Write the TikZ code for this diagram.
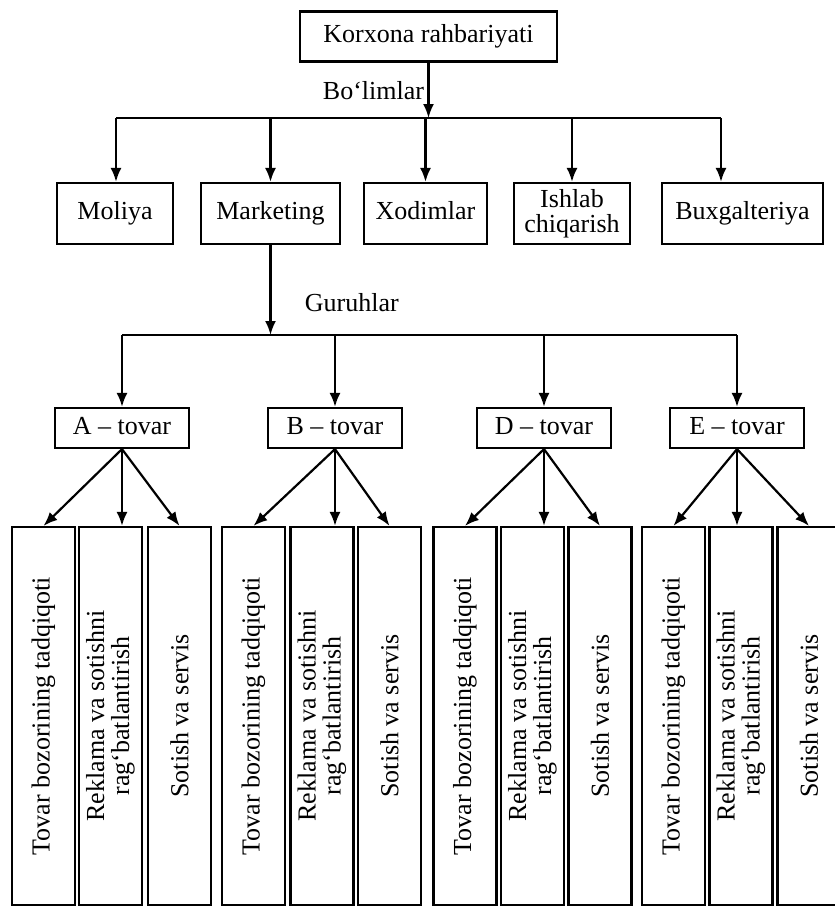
\documentclass[tikz,border=0pt]{standalone}
\usepackage{fontspec}
\setmainfont{Liberation Serif}
\usetikzlibrary{arrows.meta}

\begin{document}
\begin{tikzpicture}[x=1pt, y=-1pt, font=\fontsize{26}{25}\selectfont,
  unitbox/.style={draw, line width=2.2pt, inner sep=0pt, align=center},
  oneline/.style={text height=18pt, text depth=6pt},
  bolim/.style={unitbox, minimum height=61pt},
  tovar/.style={unitbox, oneline, minimum width=134pt, minimum height=40pt},
  guruh/.style={unitbox, rotate=90, minimum width=378pt, minimum height=63pt},
  arr/.style={-{Latex[length=14pt,width=11pt]}, line width=2.2pt},
  ln/.style={line width=2.2pt}]

\useasboundingbox (0,0) rectangle (835,908);

% rahbariyat and bo'limlar
\path
(428.5,36.5) node[unitbox, oneline, minimum width=257pt, minimum height=50pt](korxona){Korxona rahbariyati}
(115,213.5) node[bolim, oneline, minimum width=116pt](moliya){Moliya}
(270.5,213.5) node[bolim, oneline, minimum width=139pt](marketing){Marketing}
(425.5,213.5) node[bolim, oneline, minimum width=123pt](xodimlar){Xodimlar}
(572,213.5) node[bolim, minimum width=116pt](ishlab){Ishlab\\chiqarish}
(742.5,213.5) node[bolim, oneline, minimum width=161pt](buxgalteriya){Buxgalteriya};

\coordinate (bolL) at (116,118);
\coordinate (bolR) at (721,118);
\draw[arr] (korxona.south) -- node[left]{Bo‘limlar} (korxona.south |- bolL);
\draw[ln] (bolL) -- (bolR);
\draw[arr] (bolL) -- (bolL |- moliya.north);
\draw[arr] (marketing.north |- bolL) -- (marketing.north);
\draw[arr] (xodimlar.north |- bolL) -- (xodimlar.north);
\draw[arr] (ishlab.north |- bolL) -- (ishlab.north);
\draw[arr] (bolR) -- (bolR |- buxgalteriya.north);

%% guruhlar under Marketing
\path
(122,428) node[tovar](tovarA){A – tovar}
(335,428) node[tovar](tovarB){B – tovar}
(544,428) node[tovar](tovarD){D – tovar}
(737,428) node[tovar](tovarE){E – tovar};

\coordinate (guruhL) at (122,335);
\coordinate (guruhR) at (737,335);
\draw[arr] (marketing.south) -- node[pos=0.64, right=30pt]{Guruhlar} (marketing.south |- guruhL);
\draw[ln] (guruhL) -- (guruhR);
\draw[arr] (guruhL) -- (tovarA.north);
\draw[arr] (tovarB.north |- guruhL) -- (tovarB.north);
\draw[arr] (tovarD.north |- guruhL) -- (tovarD.north);
\draw[arr] (guruhR) -- (tovarE.north);

%% vertical boxes, three for each tovar
\path
(43.5,716) node[guruh](a1){Tovar bozorining tadqiqoti}
(110.5,716) node[guruh](a2){Reklama va sotishni\\rag‘batlantirish}
(179.5,716) node[guruh](a3){Sotish va servis}
(253.5,716) node[guruh](b1){Tovar bozorining tadqiqoti}
(322,716) node[guruh](b2){Reklama va sotishni\\rag‘batlantirish}
(389.5,716) node[guruh](b3){Sotish va servis}
(465,716) node[guruh](d1){Tovar bozorining tadqiqoti}
(532.5,716) node[guruh](d2){Reklama va sotishni\\rag‘batlantirish}
(600,716) node[guruh](d3){Sotish va servis}
(673.5,716) node[guruh](e1){Tovar bozorining tadqiqoti}
(741,716) node[guruh](e2){Reklama va sotishni\\rag‘batlantirish}
(809,716) node[guruh](e3){Sotish va servis};

\draw[arr] (tovarA.south) -- (a1.east);
\draw[arr] (tovarA.south) -- (tovarA.south |- a2.east);
\draw[arr] (tovarA.south) -- (a3.east);
\draw[arr] (tovarB.south) -- (b1.east);
\draw[arr] (tovarB.south) -- (tovarB.south |- b2.east);
\draw[arr] (tovarB.south) -- (b3.east);
\draw[arr] (tovarD.south) -- (d1.east);
\draw[arr] (tovarD.south) -- (tovarD.south |- d2.east);
\draw[arr] (tovarD.south) -- (d3.east);
\draw[arr] (tovarE.south) -- (e1.east);
\draw[arr] (tovarE.south) -- (tovarE.south |- e2.east);
\draw[arr] (tovarE.south) -- (e3.east);

\end{tikzpicture}
\end{document}
